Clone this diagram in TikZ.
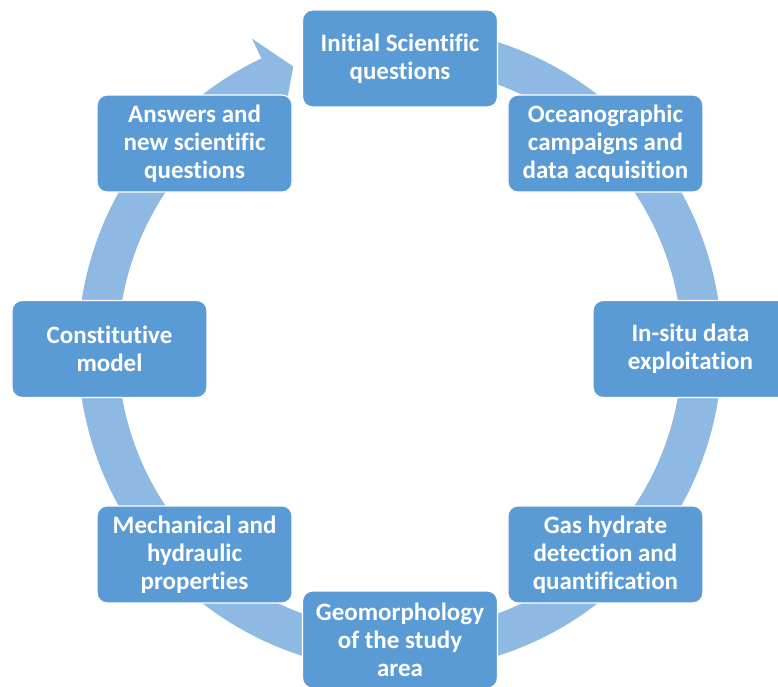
\documentclass[tikz,border=0pt]{standalone}
\usepackage{fontspec}
\setmainfont{Carlito}[Ligatures={NoCommon}]
\usepackage{tikz}

\definecolor{ringblue}{RGB}{142,185,226}
\definecolor{boxblue}{RGB}{91,155,213}

\tikzset{
  stepbox/.style={rectangle, rounded corners=10pt, fill=boxblue, draw=white,
    line width=1.2pt, minimum width=195pt, minimum height=97pt, inner sep=0pt,
    text=white, align=center, font=\bfseries\fontsize{25}{28}\selectfont}
}

\begin{document}
\begin{tikzpicture}[x=1pt,y=1pt]
                \useasboundingbox (-400,-337) rectangle (378,349);
                \clip (-400,-337) rectangle (378,349);

                % Cycle arrow
                \fill[ringblue] (104:322) arc[start angle=104, end angle=-244.5, radius=322]
                    -- (115.5:344) -- (110.7:302) -- (115.5:266) -- (115.5:282)
                    arc[start angle=-244.5, end angle=104, radius=282] -- cycle;

                % Steps of the cycle
                \foreach \ang/\name/\txt in {
                    90/initial/{Initial Scientific\\questions},
                    45/campaigns/{Oceanographic\\campaigns and\\data acquisition},
                    0/insitu/{In-situ data\\exploitation},
                    -45/hydrate/{Gas hydrate\\detection and\\quantification},
                    -90/geomorph/{Geomorphology\\of the study\\area},
                    -135/mechanical/{Mechanical and\\hydraulic\\properties},
                    180/constitutive/{Constitutive\\model},
                    135/answers/{Answers and\\new scientific\\questions}} {
                    \node[stepbox] (\name) at (\ang:290.5) {\txt};
                }
            \end{tikzpicture}
\end{document}
